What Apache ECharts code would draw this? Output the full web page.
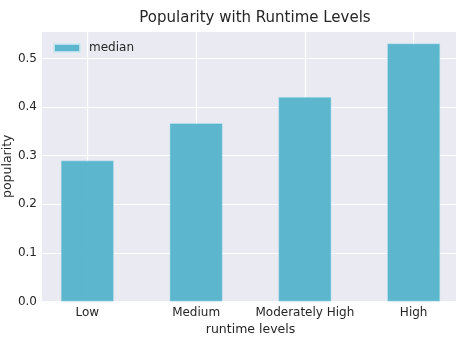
<!DOCTYPE html>
<html>
<head>
<meta charset="utf-8">
<script src="https://cdn.jsdelivr.net/npm/echarts@6/dist/echarts.min.js"></script>
<style>
  html, body { margin: 0; padding: 0; background: #fff; }
  #chart { width: 456px; height: 350px; }
</style>
</head>
<body>
<div id="chart"></div>
<script>
// Median popularity per runtime level
const categories = ['Low', 'Medium', 'Moderately High', 'High'];
const medianValues = [0.290, 0.367, 0.421, 0.531];
const yTicks = [0.0, 0.1, 0.2, 0.3, 0.4, 0.5];

const positions = categories.map((_, i) => i);
const barData = medianValues.map((v, i) => [positions[i], v]);

const font = 'DejaVu Sans';
const textColor = '#262626';
const barColor = 'rgba(84,180,203,0.95)';

const chart = echarts.init(document.getElementById('chart'), null, { renderer: 'canvas' });
chart.setOption({
  animation: false,
  backgroundColor: '#ffffff',
  title: {
    text: 'Popularity with Runtime Levels',
    left: 250, top: 6, textAlign: 'center',
    textStyle: { fontFamily: font, fontSize: 15, fontWeight: 'normal', color: textColor }
  },
  legend: {
    left: 53, top: 42, padding: 0,
    icon: 'rect',
    itemWidth: 26, itemHeight: 8, itemGap: 10,
    textStyle: { fontFamily: font, fontSize: 12, color: textColor, padding: [0, 0, 0, 4] },
    data: ['median']
  },
  grid: {
    left: 42, top: 31, width: 417, height: 270.5,
    outerBoundsMode: 'none',
    containLabel: false,
    show: true, backgroundColor: '#EAEAF2', borderWidth: 0
  },
  xAxis: {
    type: 'value',
    min: -0.417, max: 3.417,
    name: 'runtime levels', nameLocation: 'middle', nameGap: 22,
    nameMoveOverlap: false,
    nameTextStyle: { fontFamily: font, fontSize: 12.5, color: textColor },
    axisLine: { show: false },
    axisTick: { show: false, customValues: positions },
    axisLabel: {
      customValues: positions,
      fontFamily: font, fontSize: 12, color: textColor, margin: 5,
      formatter: v => categories[Math.round(v)]
    },
    splitLine: { show: true, lineStyle: { color: '#ffffff', width: 1.2 } }
  },
  yAxis: {
    type: 'value',
    min: 0, max: 0.5566, interval: 0.1,
    name: 'popularity', nameLocation: 'middle', nameGap: 28,
    nameMoveOverlap: false,
    nameTextStyle: { fontFamily: font, fontSize: 12.5, color: textColor },
    axisLine: { show: false },
    axisTick: { show: false },
    axisLabel: {
      customValues: yTicks,
      fontFamily: font, fontSize: 12, color: textColor, margin: 5,
      formatter: v => v.toFixed(1)
    },
    splitLine: { show: true, lineStyle: { color: '#ffffff', width: 1.2 } }
  },
  series: [{
    name: 'median',
    type: 'bar',
    data: barData,
    barWidth: 53,
    itemStyle: {
      color: barColor,
      borderColor: 'rgba(205,232,240,0.8)',
      borderWidth: 0.6
    }
  }]
});
</script>
</body>
</html>
